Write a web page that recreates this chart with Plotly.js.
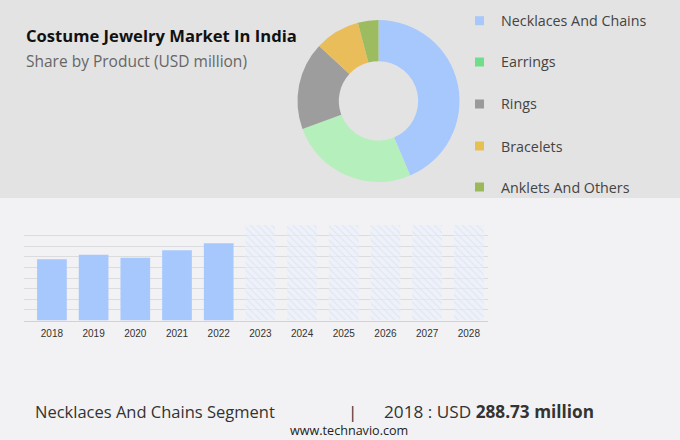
<!DOCTYPE html>
<html>
<head>
<meta charset="utf-8">
<script src="https://cdn.plot.ly/plotly-3.0.1.min.js"></script>
<style>html,body{margin:0;padding:0;background:#f2f2f4;}#chart{width:680px;height:440px;}</style>
</head>
<body>
<div id="chart"></div>
<script>
// ---- data ----
const productCategories = ['Necklaces And Chains', 'Earrings', 'Rings', 'Bracelets', 'Anklets And Others'];
const productShares = [43.6, 25.8, 17.5, 9.0, 4.1];
const actualYears = ['2018', '2019', '2020', '2021', '2022'];
const actualValues = [288.73, 310, 296, 331, 364];
const forecastYears = ['2023', '2024', '2025', '2026', '2027', '2028'];
const forecastValues = [450, 450, 450, 450, 450, 450];
const yearTicks = ['2018','2019','2020','2021','2022','2023','2024','2025','2026','2027','2028'];
const titleText = 'Costume Jewelry Market In India';
const subtitleText = 'Share by Product (USD million)';
const segmentText = 'Necklaces And Chains Segment';
const segmentYear = '2018';
const segmentValue = '288.73 million';
const sourceText = 'www.technavio.com';

// ---- styles ----
const sliceColors = ['#a7c8fd', '#b5efbc', '#9d9d9d', '#eabd5b', '#9dbc5f'];
const legendColors = ['#a8c8fc', '#6fde8c', '#9a9a9a', '#e6c152', '#9bb958'];
const W = 680, H = 440;
const px = x => x / W;
const py = y => 1 - y / H;
const FONT = 'Open Sans, sans-serif';

const pie = {
  type: 'pie',
  labels: productCategories,
  values: productShares,
  sort: false,
  direction: 'clockwise',
  rotation: 0,
  hole: 0.49,
  textinfo: 'none',
  hoverinfo: 'label+percent',
  marker: {colors: sliceColors, line: {width: 0}},
  domain: {x: [px(297.5), px(459.5)], y: [py(182), py(20)]},
  showlegend: false
};

const actualBars = {
  type: 'bar',
  x: actualYears,
  y: actualValues,
  marker: {color: '#a6c8fd', line: {width: 0}},
  showlegend: false,
  xaxis: 'x', yaxis: 'y'
};
const forecastBars = {
  type: 'bar',
  x: forecastYears,
  y: forecastValues,
  marker: {
    color: 'rgba(236,240,250,0.6)',
    line: {width: 0},
    pattern: {shape: '\\', fgcolor: '#c7d6f3', size: 5, solidity: 0.18, fillmode: 'overlay'}
  },
  showlegend: false,
  xaxis: 'x', yaxis: 'y'
};

const shapes = [
  {type: 'rect', xref: 'paper', yref: 'paper', x0: 0, x1: 1, y0: py(198), y1: 1,
   fillcolor: '#e3e3e3', line: {width: 0}, layer: 'below'}
];
const annotations = [
  {text: '<b>' + titleText + '</b>', xref: 'paper', yref: 'paper', x: px(24), y: py(35),
   xanchor: 'left', yanchor: 'middle', showarrow: false,
   font: {family: FONT, size: 16.6, color: '#111'}},
  {text: subtitleText, xref: 'paper', yref: 'paper', x: px(24), y: py(61),
   xanchor: 'left', yanchor: 'middle', showarrow: false,
   font: {family: FONT, size: 15.5, color: '#666'}},
  {text: segmentText, xref: 'paper', yref: 'paper', x: px(33), y: py(411),
   xanchor: 'left', yanchor: 'middle', showarrow: false,
   font: {family: FONT, size: 16.5, color: '#333'}},
  {text: '|', xref: 'paper', yref: 'paper', x: px(352.5), y: py(411),
   xanchor: 'center', yanchor: 'middle', showarrow: false,
   font: {family: FONT, size: 17, color: '#333'}},
  {text: segmentYear + ' : USD <b>' + segmentValue + '</b>', xref: 'paper', yref: 'paper', x: px(382), y: py(411),
   xanchor: 'left', yanchor: 'middle', showarrow: false,
   font: {family: FONT, size: 17.2, color: '#333'}},
  {text: sourceText, xref: 'paper', yref: 'paper', x: px(349.5), y: py(430),
   xanchor: 'center', yanchor: 'middle', showarrow: false,
   font: {family: FONT, size: 12.6, color: '#222'}}
];
const legendY = [20.7, 62, 104, 146, 187];
productCategories.forEach((c, i) => {
  shapes.push({type: 'rect', xref: 'paper', yref: 'paper',
    x0: px(475), x1: px(484), y0: py(legendY[i] + 4.5), y1: py(legendY[i] - 4.5),
    fillcolor: legendColors[i], line: {width: 0}});
  annotations.push({text: c, xref: 'paper', yref: 'paper', x: px(499), y: py(legendY[i]),
    xanchor: 'left', yanchor: 'middle', showarrow: false,
    font: {family: FONT, size: 14.3, color: '#444'}});
});

const layout = {
  width: W, height: H,
  margin: {l: 0, r: 0, t: 0, b: 0},
  paper_bgcolor: '#f2f2f4',
  plot_bgcolor: 'rgba(0,0,0,0)',
  barmode: 'overlay',
  bargap: 0.288,
  xaxis: {
    domain: [px(24), px(488)],
    type: 'category',
    categoryorder: 'array', categoryarray: yearTicks,
    range: [-0.67, 10.46],
    showgrid: false, zeroline: false,
    showline: true, linecolor: '#d2d2d2', linewidth: 1,
    ticks: 'outside', ticklen: 3, tickcolor: 'rgba(0,0,0,0)',
    tickfont: {family: 'Arial, Liberation Sans, sans-serif', size: 10, color: '#333'},
    fixedrange: true
  },
  yaxis: {
    domain: [py(320.5), py(225)],
    range: [0, 450], dtick: 50,
    showgrid: true, gridcolor: '#dcdcde', gridwidth: 1,
    zeroline: false, showticklabels: false, showline: false,
    fixedrange: true
  },
  shapes: shapes,
  annotations: annotations,
  showlegend: false
};

Plotly.newPlot('chart', [pie, actualBars, forecastBars], layout, {displayModeBar: false, staticPlot: true});
</script>
</body>
</html>
